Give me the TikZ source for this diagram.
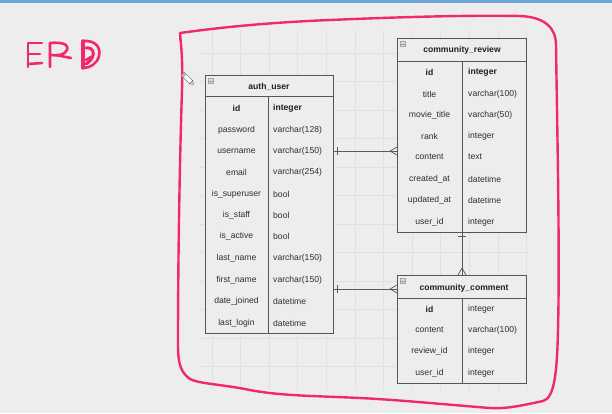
\documentclass[tikz,border=0pt]{standalone}
\usepackage{fontspec}
\setmainfont{Liberation Sans}
\usetikzlibrary{calc}
\definecolor{bgc}{HTML}{EDEDED}
\definecolor{gridc}{HTML}{E0E0E0}
\definecolor{tblc}{HTML}{555555}
\definecolor{pinkc}{HTML}{F2286E}
\definecolor{barc}{HTML}{6FA8D6}
\begin{document}
\begin{tikzpicture}[x=1pt,y=-1pt,
  tblbox/.style={draw=tblc, line width=0.7pt, fill=bgc, inner sep=0pt, anchor=north west},
  sep/.style={draw=tblc, line width=0.7pt},
  hdr/.style={font=\fontsize{8.6}{10}\selectfont\bfseries, text=black!88, inner sep=1pt},
  key/.style={font=\fontsize{8.6}{10}\selectfont\bfseries, text=black!88, inner sep=1pt},
  lbl/.style={font=\fontsize{8.6}{10}\selectfont, text=black!82, inner sep=1pt},
  typ/.style={font=\fontsize{8.6}{10}\selectfont, text=black!82, inner sep=1pt, anchor=west},
  keyt/.style={key, anchor=west},
  conn/.style={draw=black!65, line width=0.7pt},
  endmark/.style={draw=black!65, line width=0.7pt},
  minus/.style={draw=gray!70, fill=gray!25, line width=0.4pt, minimum size=5pt, inner sep=0pt},
  pen/.style={draw=pinkc, line width=2.6pt, line cap=round, line join=round}]
% background
\fill[bgc] (0,0) rectangle (612,413);
\useasboundingbox (0,0) rectangle (612,413);
\fill[barc] (0,0) rectangle (612,3);
% grid
\begin{scope}
\clip (200,30) rectangle (528,390);
\foreach \gx in {211.7,240.3,268.9,297.5,326.1,354.7,383.3,411.9,440.5,469.1,497.7,526.3}
  \draw[gridc, line width=0.4pt] (\gx,30) -- (\gx,390);
\foreach \gy in {53,81.5,110,138.5,167,195.5,224,252.5,281,309.5,338,366.5}
  \draw[gridc, line width=0.4pt] (200,\gy) -- (528,\gy);
\end{scope}

% ---------- auth_user ----------
\node[tblbox, minimum width=128pt, minimum height=258pt] (au) at (205,75) {};
\draw[sep] (205,96) -- (333,96);
\draw[sep] (268,96) -- (268,333);
\node[minus] (aum) at (211,81) {};
\draw[gray!80, line width=0.4pt] (209,81) -- (213,81);
\node[hdr] (auh) at (269,87) {auth\_user};
\node[key] (au1) at (236.5,108) {id};       \node[keyt] (au1t) at (272,108) {integer};
\node[lbl] (au2) at (236.5,130) {password}; \node[typ] (au2t) at (272,130) {varchar(128)};
\node[lbl] (au3) at (236.5,151) {username}; \node[typ] (au3t) at (272,151) {varchar(150)};
\node[lbl] (au4) at (236.5,172) {email};    \node[typ] (au4t) at (272,172) {varchar(254)};
\node[lbl] (au5) at (236.5,194) {is\_superuser}; \node[typ] (au5t) at (272,194) {bool};
\node[lbl] (au6) at (236.5,215) {is\_staff}; \node[typ] (au6t) at (272,215) {bool};
\node[lbl] (au7) at (236.5,236) {is\_active}; \node[typ] (au7t) at (272,236) {bool};
\node[lbl] (au8) at (236.5,258) {last\_name}; \node[typ] (au8t) at (272,258) {varchar(150)};
\node[lbl] (au9) at (236.5,280) {first\_name}; \node[typ] (au9t) at (272,280) {varchar(150)};
\node[lbl] (au10) at (236.5,301) {date\_joined}; \node[typ] (au10t) at (272,301) {datetime};
\node[lbl] (au11) at (236.5,323) {last\_login}; \node[typ] (au11t) at (272,323) {datetime};

% ---------- community_review ----------
\node[tblbox, minimum width=129pt, minimum height=194pt] (rv) at (397,38) {};
\draw[sep] (397,61) -- (526,61);
\draw[sep] (462,61) -- (462,232);
\node[minus] (rvm) at (403,44) {};
\draw[gray!80, line width=0.4pt] (401,44) -- (405,44);
\node[hdr] (rvh) at (462,50) {community\_review};
\node[key] (rv1) at (429.5,72) {id};          \node[keyt] (rv1t) at (467,72) {integer};
\node[lbl] (rv2) at (429.5,94) {title};       \node[typ] (rv2t) at (467,94) {varchar(100)};
\node[lbl] (rv3) at (429.5,115) {movie\_title}; \node[typ] (rv3t) at (467,115) {varchar(50)};
\node[lbl] (rv4) at (429.5,136) {rank};       \node[typ] (rv4t) at (467,136) {integer};
\node[lbl] (rv5) at (429.5,157) {content};    \node[typ] (rv5t) at (467,157) {text};
\node[lbl] (rv6) at (429.5,179) {created\_at}; \node[typ] (rv6t) at (467,179) {datetime};
\node[lbl] (rv7) at (429.5,200) {updated\_at}; \node[typ] (rv7t) at (467,200) {datetime};
\node[lbl] (rv8) at (429.5,222) {user\_id};   \node[typ] (rv8t) at (467,222) {integer};

% ---------- community_comment ----------
\node[tblbox, minimum width=129pt, minimum height=108pt] (cm) at (397,275) {};
\draw[sep] (397,298) -- (526,298);
\draw[sep] (462,298) -- (462,383);
\node[minus] (cmm) at (403,281) {};
\draw[gray!80, line width=0.4pt] (401,281) -- (405,281);
\node[hdr] (cmh) at (464,288) {community\_comment};
\node[key] (cm1) at (429.5,309) {id};          \node[typ] (cm1t) at (467,309) {integer};
\node[lbl] (cm2) at (429.5,330) {content};     \node[typ] (cm2t) at (467,330) {varchar(100)};
\node[lbl] (cm3) at (429.5,351) {review\_id};  \node[typ] (cm3t) at (467,351) {integer};
\node[lbl] (cm4) at (429.5,373) {user\_id};    \node[typ] (cm4t) at (467,373) {integer};

% ---------- connectors ----------
% auth_user -> community_review
\draw[conn] (au.east |- au3) -- (rv.west |- au3);
\draw[endmark] ($(au.east |- au3)+(3.5,-4)$) -- ++(0,8);
\draw[endmark] ($(rv.west |- au3)+(-7,0)$) -- ($(rv.west |- au3)+(0,-4)$);
\draw[endmark] ($(rv.west |- au3)+(-7,0)$) -- ($(rv.west |- au3)+(0,4)$);
% auth_user -> community_comment
\coordinate (c2) at (0,289);
\draw[conn] (au.east |- c2) -- (cm.west |- c2);
\draw[endmark] ($(au.east |- c2)+(3.5,-4)$) -- ++(0,8);
\draw[endmark] ($(cm.west |- c2)+(-7,0)$) -- ($(cm.west |- c2)+(0,-4)$);
\draw[endmark] ($(cm.west |- c2)+(-7,0)$) -- ($(cm.west |- c2)+(0,4)$);
% community_review -> community_comment
\coordinate (c3) at (462,0);
\draw[conn] (rv.south -| c3) -- (cm.north -| c3);
\draw[endmark] ($(rv.south -| c3)+(-4,3.5)$) -- ++(8,0);
\draw[endmark] ($(cm.north -| c3)+(0,-7)$) -- ($(cm.north -| c3)+(-4,0)$);
\draw[endmark] ($(cm.north -| c3)+(0,-7)$) -- ($(cm.north -| c3)+(4,0)$);

% ---------- pink annotation ----------
% E
\draw[pen] (42,43) -- (28,43) -- (28,67);
\draw[pen] (28,54) -- (40,54);
\draw[pen] (28,64) -- (42,63);
% R
\draw[pen] (50,67) -- (50,43) .. controls (62,42) and (69,44) .. (67,50) .. controls (65,55) and (57,56) .. (51,55);
\draw[pen] (56,55) -- (71,58);
% D
\draw[pen, line width=3.4pt] (83,41) -- (83,68);
\draw[pen] (83,41) .. controls (96,40) and (101,48) .. (99,56) .. controls (97,64) and (90,68) .. (83,68);
\draw[pen, line width=3pt] (86,48) .. controls (93,47) and (95,53) .. (92,58) .. controls (90,62) and (87,63) .. (86,64);
\draw[pen] (86,60) -- (91,57);
% loop
\draw[pen, line width=2.4pt] (180,33) .. controls (230,26) and (280,22) .. (330,20)
  .. controls (400,17) and (470,15) .. (520,16)
  .. controls (545,17) and (556,28) .. (556,45)
  .. controls (557,120) and (560,250) .. (558,330)
  .. controls (557,370) and (555,398) .. (543,401)
  .. controls (520,406) and (505,409) .. (490,408)
  .. controls (440,404) and (400,400) .. (360,398)
  .. controls (320,396) and (280,396) .. (250,390)
  .. controls (220,384) and (200,384) .. (190,379)
  .. controls (180,372) and (178,362) .. (178,345)
  .. controls (178,250) and (180,150) .. (182,90)
  .. controls (183,60) and (181,45) .. (180,33);
\draw[pen, line width=1.6pt] (180,33) -- (180,40);
% cursor (pencil)
\begin{scope}[shift={(187,78)}, rotate=-45]
\filldraw[draw=gray!70!black, fill=white, line width=0.5pt] (-6,-2.2) rectangle (6,2.2);
\fill[gray!60] (-6,-2.2) rectangle (-3,2.2);
\draw[draw=gray!70!black, line width=0.5pt] (6,-2.2) -- (9,0) -- (6,2.2);
\end{scope}
\end{tikzpicture}
\end{document}
